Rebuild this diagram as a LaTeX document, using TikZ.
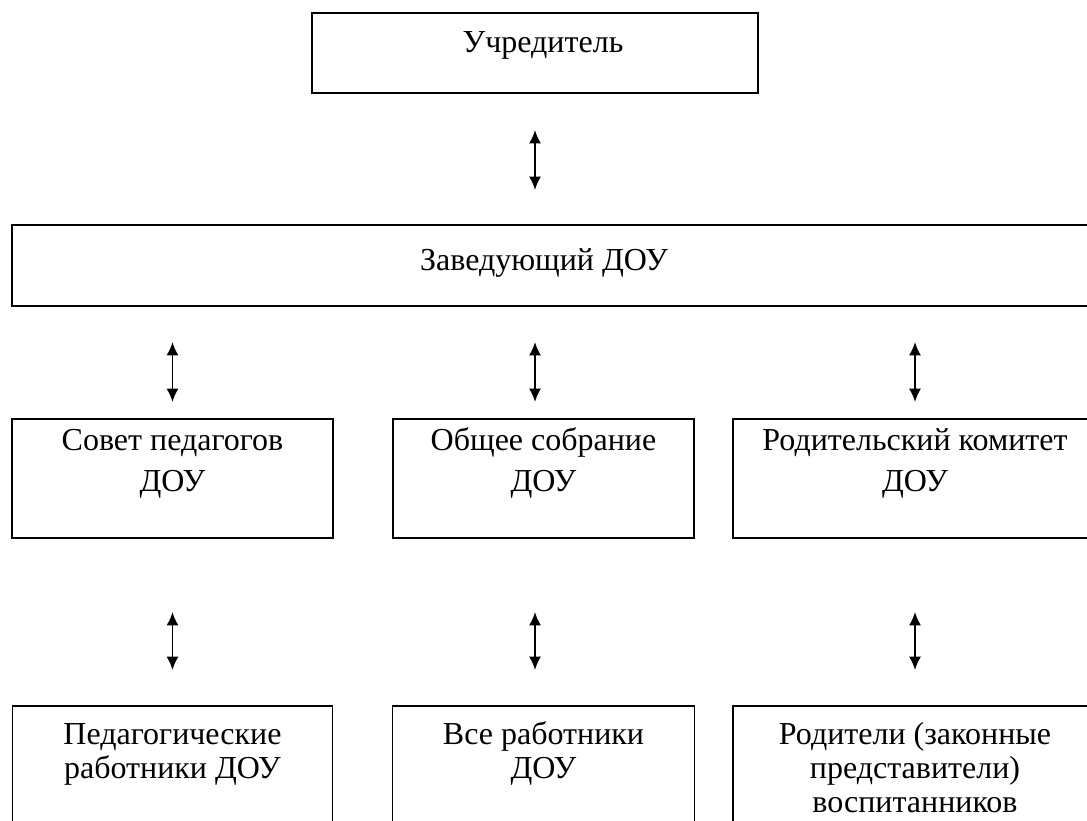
\documentclass[tikz,border=0pt]{standalone}
\usepackage{fontspec}
\setmainfont{Liberation Serif}
\usetikzlibrary{positioning,arrows.meta,calc}

\begin{document}
\begin{tikzpicture}[
  x=0.75pt, y=-0.75pt,
  box/.style={
    draw,
    line width=1pt,
    inner sep=0pt,
    outer sep=0pt
  },
  txt/.style={
    anchor=base,
    align=center,
    inner sep=0pt,
    font=\fontsize{24}{30.75}\selectfont
  },
  txtlow/.style={txt, font=\fontsize{24}{25.5}\selectfont},
  line/.style={draw, line width=1.4pt, {Latex[length=10pt,width=9pt]}-{Latex[length=10pt,width=9pt]}}
]
\useasboundingbox (0,0) rectangle (1087,820);
\clip (0,0) rectangle (1087,820);

\node[box, minimum width=334.5pt, minimum height=60pt] (uchr) at (535,53) {};
\node[box, minimum width=813.75pt, minimum height=60.75pt, below=99pt of uchr, xshift=14.625pt] (zav) {};

\node[box, minimum width=240.75pt, minimum height=89.25pt, below=84.75pt of zav, xshift=-286.5pt] (sovet) {};
\node[box, minimum width=225.75pt, minimum height=89.25pt, below=84.75pt of zav, xshift=-8.25pt] (sobr) {};
\node[box, minimum width=273pt, minimum height=89.25pt, below=84.75pt of zav, xshift=270.375pt] (rodkom) {};

\node[box, minimum width=240pt, minimum height=115.5pt, below=126pt of sovet] (ped) {};
\node[box, minimum width=226.5pt, minimum height=115.5pt, below=126pt of sobr] (vse) {};
\node[box, minimum width=273pt, minimum height=115.5pt, below=126pt of rodkom] (rod) {};

\node[txt] (uchrtxt) at ([yshift=-30pt, xshift=6pt]uchr.north) {Учредитель};
\node[txt] (zavtxt) at ([yshift=-33.75pt, xshift=-7.875pt]zav.north) {Заведующий ДОУ};
\node[txt] (sovettxt) at ([yshift=-54pt]sovet.north) {Совет педагогов\\ДОУ};
\node[txt] (sobrtxt) at ([yshift=-54pt]sobr.north) {Общее собрание\\ДОУ};
\node[txt] (rodkomtxt) at ([yshift=-54pt]rodkom.north) {Родительский комитет\\ДОУ};
\node[txtlow] (pedtxt) at ([yshift=-54pt]ped.north) {Педагогические\\работники ДОУ};
\node[txtlow] (vsetxt) at ([yshift=-54pt]vse.north) {Все работники\\ДОУ};
\node[txtlow] (rodtxt) at ([yshift=-79.5pt]rod.north) {Родители (законные\\представители)\\воспитанников};

\draw[line, shorten <=27.75pt, shorten >=26.25pt] (uchr.south) -- (zav.north -| uchr.south);
\draw[line, shorten <=27pt, shorten >=12.75pt] (zav.south -| sovet.north) -- (sovet.north);
\draw[line, shorten <=27pt, shorten >=12.75pt] ($(zav.south -| sobr.north)+(-8.5,0)$) -- ($(sobr.north)+(-8.5,0)$);
\draw[line, shorten <=27pt, shorten >=12.75pt] (zav.south -| rodkom.north) -- (rodkom.north);
\draw[line, shorten <=55.5pt, shorten >=27pt] (sovet.south) -- (sovet.south |- ped.north);
\draw[line, shorten <=55.5pt, shorten >=27pt] ($(sobr.south)+(-8.5,0)$) -- ($(sobr.south |- vse.north)+(-8.5,0)$);
\draw[line, shorten <=55.5pt, shorten >=27pt] (rodkom.south) -- (rod.north);
\end{tikzpicture}
\end{document}
